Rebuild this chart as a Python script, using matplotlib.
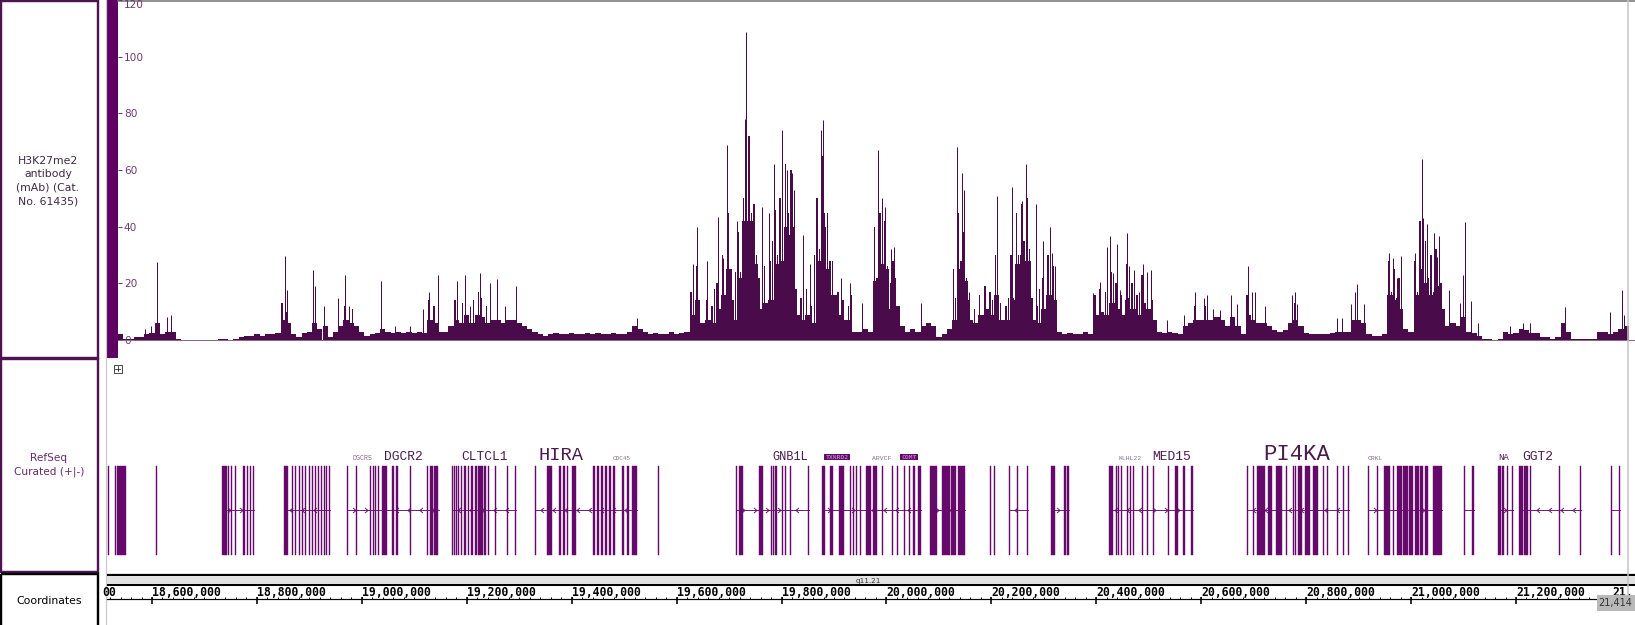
import math
import matplotlib
matplotlib.use("Agg")
import matplotlib.pyplot as plt
from matplotlib.patches import Rectangle
from matplotlib.path import Path
import numpy as np

# ---------------------------------------------------------------- data
track_label = "H3K27me2\nantibody\n(mAb) (Cat.\nNo. 61435)"
gene_track_label = "RefSeq\nCurated (+|-)"
ruler_label = "Coordinates"
band_label = "q11.21"
window_end_label = "21,414"
window_end_bp = 21_414_000

# signal: 10 kb bins starting at 18,535,000
signal_bin_start = 18_535_000
signal_bin_size = 10_000
signal_body = [
    2, 0.5, 0.5, 1, 1, 2, 2.5, 6, 2, 3,
    3, 0.5, 0, 0, 0, 0, 0, 0, 0, 0.5,
    0.5, 0, 0.5, 1, 1.5, 1.5, 2, 1.5, 2, 2,
    2.5, 7, 6, 2, 1, 2.5, 3, 6, 4, 5,
    1, 3, 5, 7, 6, 5, 3, 1.5, 2, 2.5,
    4, 3, 2.5, 3, 2.5, 3, 2.5, 3, 2.5, 7,
    6, 3, 3, 5, 7, 6, 9, 6, 9, 8,
    6, 7, 7, 6, 7, 7, 6, 5, 4, 3,
    2, 1.5, 2, 2.5, 2, 2, 2.5, 2, 2, 2.5,
    2, 2.5, 2, 2, 2.5, 2, 2, 3, 5, 4,
    3, 2, 2.5, 2, 2, 3, 2, 2.5, 3, 9,
    14, 6, 7, 6, 11, 16, 25, 7, 22, 42,
    42, 27, 11, 13, 14, 27, 28, 40, 37, 9,
    7, 9, 6, 28, 40, 25, 16, 9, 7, 7,
    3, 3, 4, 3, 21, 27, 25, 11, 12, 5,
    3, 4, 3, 5, 6, 5, 1, 2, 4, 7,
    25, 21, 7, 6, 9, 11, 9, 16, 7, 7,
    14, 27, 30, 28, 7, 6, 11, 16, 14, 3,
    2, 2.5, 2, 2, 3, 2, 9, 10, 9, 13,
    11, 9, 14, 11, 9, 13, 11, 7, 3, 2.5,
    3, 2.5, 2, 5, 6, 7, 7, 7, 7, 8,
    7, 5, 8, 5, 2, 9, 7, 6, 6, 5,
    3.5, 3, 3.5, 6, 7, 5, 2.5, 2, 2, 2,
    2, 2.5, 3, 3, 3, 7, 7, 6, 2, 1.5,
    1.5, 2, 16, 14, 11, 4, 3, 16, 25, 20,
    16, 18, 11, 5, 6, 5, 8, 3, 2.5, 1.5,
    0.5, 0.5, 0, 0.5, 3, 2, 2.5, 4, 3.5, 2.5,
    2.5, 1, 1, 0.5, 1, 6, 3, 0.5, 0.5, 0.5,
    0.5, 0.5, 3, 3, 2, 3, 4, 5,
]
# two finer readings inside the busier bins (bin index, value early in bin, value late in bin)
fine_bins = [31, 32, 37, 43, 44, 59, 60, 64, 65, 66, 67, 68, 69, 70,
             109, 110, 112, 113, 114, 115, 116, 117, 118, 119, 120, 121, 122, 123, 124, 125, 126, 127,
             128, 129, 130, 131, 132, 133, 134, 135, 136, 137, 138, 139,
             144, 145, 146, 147, 148,
             159, 160, 161, 162, 163, 164, 165, 166, 167, 168, 169, 170, 171, 172, 173, 174, 175, 176,
             177, 178,
             186, 187, 188, 189, 190, 191, 192, 193, 194, 195, 196, 197,
             205, 207, 215, 216, 224, 236,
             242, 243, 244, 247, 248, 249, 250, 251, 252]
fine_early = [13, 10, 11, 12, 6, 14, 12, 14, 6, 16, 11, 9, 15, 12,
              17, 26, 14, 12, 20, 30, 45, 14, 38, 50, 72, 48, 22, 26, 28, 46, 50, 62,
              60, 18, 15, 18, 12, 50, 65, 45, 28, 17, 14, 12,
              40, 45, 42, 20, 22,
              25, 45, 38, 14, 11, 16, 19, 17, 30, 13, 12, 30, 45, 48, 50, 15, 12, 22,
              30, 26,
              16, 18, 17, 24, 20, 16, 27, 20, 16, 23, 20, 14,
              12, 12, 16, 14, 13, 12,
              28, 25, 22, 28, 42, 35, 30, 32, 20]
fine_late = [6, 5, 6, 7, 11, 7, 5, 7, 13, 9, 14, 17, 8, 6,
             22, 14, 7, 18, 11, 16, 25, 24, 24, 70, 45, 30, 10, 13, 35, 30, 32, 45,
             40, 8, 20, 9, 30, 32, 45, 28, 16, 9, 7, 16,
             22, 30, 26, 28, 12,
             15, 28, 22, 7, 6, 9, 11, 14, 16, 7, 15, 15, 30, 35, 32, 7, 18, 11,
             17, 14,
             9, 10, 8, 13, 11, 9, 15, 11, 9, 13, 11, 7,
             7, 6, 9, 7, 7, 7,
             17, 15, 10, 17, 28, 22, 17, 19, 10]
# narrow spikes (kb position, value)
spike_kb = [
    18586.7, 18598.1, 18609.5, 18628.6, 18636.2, 18853.5, 18857.3, 18906.9, 18910.7, 18927.9,
    18954.5, 18967.9, 18975.5, 19036.5, 19063.2, 19091.8, 19116.6, 19128.0, 19145.2, 19181.4,
    19196.6, 19206.2, 19225.2, 19244.3, 19257.6, 19272.9, 19293.9, 19524.5, 19631.3, 19638.9,
    19657.9, 19678.9, 19688.5, 19696.1, 19715.1, 19730.4, 19732.3, 19738.0, 19762.8, 19776.1,
    19785.6, 19800.9, 19806.6, 19810.4, 19820.0, 19823.8, 19840.9, 19854.3, 19875.2, 19879.0,
    19913.3, 19930.5, 19953.4, 19983.9, 19991.5, 19997.2, 20008.6, 20014.3, 20065.8, 20134.4,
    20144.0, 20147.8, 20157.3, 20210.7, 20239.3, 20258.3, 20266.0, 20285.0, 20298.4, 20311.7,
    20315.5, 20321.2, 20393.7, 20407.0, 20420.4, 20426.1, 20431.8, 20439.5, 20445.2, 20458.5,
    20462.3, 20471.9, 20481.4, 20489.0, 20496.7, 20504.3, 20534.8, 20567.2, 20588.2, 20605.3,
    20611.0, 20622.5, 20635.8, 20656.8, 20668.2, 20689.2, 20696.8, 20702.5, 20721.6, 20773.1,
    20778.8, 20782.6, 20858.8, 20868.3, 20885.5, 20893.1, 20896.9, 20910.3, 20957.9, 20965.5,
    20973.1, 20980.7, 21007.5, 21020.9, 21022.8, 21026.6, 21030.4, 21043.8, 21049.5, 21053.3,
    21072.3, 21093.3, 21099.0, 21102.8, 21114.3, 21127.6, 21188.6, 21213.4, 21226.7, 21293.4,
    21379.3, 21402.0, 21405.8,
]
spike_val = [
    4, 5, 27.7, 8, 9, 29.5, 17.7, 24.6, 19, 12,
    15, 23, 12, 21, 5, 5, 11, 17, 23, 21,
    23, 12, 23.5, 20, 21.7, 12, 19, 7.6, 27, 40,
    28, 43.5, 29, 69, 42, 78, 108.6, 65, 47, 45,
    62, 74, 60, 60, 59, 53, 37, 27, 74, 77.6,
    22, 20, 13, 67, 50, 47, 32, 33, 13, 68,
    59, 53, 17, 51, 54, 49, 62, 48, 35, 40,
    30.6, 26, 16.5, 20.6, 33, 36.7, 23.5, 34, 17.6, 37.6,
    26, 24.7, 17, 26.8, 24, 24.7, 7, 9, 17, 15,
    16, 11, 10.6, 16, 12.7, 26, 17, 17, 12, 16,
    17, 12.7, 7.6, 7.6, 12.7, 17, 19.8, 12.7, 30.6, 29,
    21.8, 29.6, 30.6, 64, 43, 35, 41, 37.6, 29.4, 36.7,
    17.6, 13, 23, 41.8, 13.8, 6, 5, 6, 6, 11.8,
    10, 17.6, 9,
]
y_ticks = [0, 20, 40, 60, 80, 100, 120]

# RefSeq exons (kb start, kb width)
exon_start_kb = [
    18516.0, 18529.5, 18533.3, 18607.6,
    18733.4, 18744.9, 18750.6, 18758.2, 18773.4, 18781.1, 18786.8, 18792.5,
    18851.6, 18866.8, 18872.6, 18880.2, 18885.9, 18891.6, 18899.2, 18905.0, 18910.7, 18916.4, 18922.1, 18927.8, 18931.6, 18937.4,
    18971.7, 18988.8, 19015.5, 19021.2, 19025.0, 19030.8, 19038.4, 19057.4, 19065.0, 19091.7, 19124.2, 19129.9, 19137.5,
    19171.8, 19175.6, 19179.4, 19183.2, 19189.0, 19194.7, 19202.3, 19208.0, 19215.6, 19221.4, 19232.8, 19240.4, 19253.8, 19276.6, 19291.9,
    19330.0, 19352.9, 19375.8, 19383.4, 19391.0, 19400.5, 19440.6, 19448.2, 19455.8, 19463.4, 19471.1, 19478.7, 19495.8, 19505.4, 19514.9, 19564.4,
    19713.1, 19718.8, 19756.9, 19779.8, 19783.6, 19787.4, 19800.8, 19806.5, 19816.0, 19850.3, 19877.0, 19892.2, 19909.4, 19930.4, 19936.1, 19941.8, 19949.4, 19960.9, 19974.2, 19991.4,
    20010.4, 20020.0, 20033.3, 20042.8, 20050.5, 20060.0, 20082.9, 20105.7, 20122.9, 20136.2,
    20197.2, 20204.9, 20233.4, 20248.7, 20267.8, 20313.5, 20338.3, 20344.0,
    20424.1, 20437.4, 20441.2, 20447.0, 20458.4, 20464.1, 20469.8, 20486.9, 20496.5, 20507.9, 20536.5, 20549.8, 20565.1, 20580.3,
    20687.1, 20698.5, 20706.1, 20727.1, 20742.3, 20761.4, 20774.7, 20778.6, 20784.3, 20797.6, 20812.9, 20831.9, 20839.6, 20858.6, 20870.0, 20879.6,
    20917.7, 20934.9, 20948.2, 20965.4, 20973.0, 20984.4, 20995.9, 21007.3, 21016.8, 21026.3, 21041.6,
    21100.7, 21115.9, 21165.5, 21173.1, 21182.6, 21192.2, 21205.5, 21215.0, 21226.5, 21281.8, 21321.8, 21380.8, 21396.1,
]
exon_width_kb = [
    1.9, 1.9, 17.2, 2.5,
    9.5, 1.9, 1.9, 1.9, 3.8, 1.9, 1.9, 1.9,
    7.6, 1.9, 1.9, 1.9, 1.9, 1.9, 1.9, 1.9, 1.9, 1.9, 1.9, 1.9, 1.9, 1.9,
    1.9, 1.9, 1.9, 1.9, 1.9, 1.9, 9.5, 3.8, 3.8, 1.9, 1.9, 5.7, 7.6,
    1.9, 1.9, 1.9, 1.9, 1.9, 3.8, 1.9, 3.8, 3.8, 9.5, 3.8, 1.9, 1.9, 1.9, 1.9,
    1.9, 9.5, 2.9, 2.9, 2.9, 7.6, 2.9, 3.8, 3.8, 3.8, 3.8, 3.8, 3.8, 3.8, 9.5, 1.9,
    1.9, 7.6, 7.6, 1.9, 1.9, 3.8, 1.9, 1.9, 1.9, 1.9, 5.7, 5.7, 9.5, 1.9, 1.9, 1.9, 1.9, 9.5, 7.6, 1.9,
    1.9, 1.9, 1.9, 1.9, 3.8, 5.7, 13.0, 15.0, 9.5, 13.0,
    1.9, 1.9, 1.9, 1.9, 1.9, 7.6, 3.8, 3.8,
    7.6, 1.9, 1.9, 1.9, 1.9, 1.9, 1.9, 1.9, 1.9, 1.9, 1.9, 5.7, 3.8, 3.8,
    1.9, 1.9, 15.0, 7.6, 11.4, 1.9, 1.9, 1.9, 7.6, 9.5, 9.5, 1.9, 1.9, 1.9, 1.9, 1.9,
    1.9, 1.9, 11.4, 1.9, 9.5, 9.5, 7.6, 7.6, 5.7, 5.7, 17.0,
    1.9, 3.8, 5.7, 3.8, 1.9, 1.9, 7.6, 7.6, 1.9, 1.9, 1.9, 1.9, 1.9,
]
# transcript spans with strand
gene_span_start_kb = [18733.4, 18851.6, 18971.7, 19030.8, 19171.8, 19330.0, 19713.1, 19816.0, 19877.0, 19960.9,
                      20082.9, 20233.4, 20313.5, 20424.1, 20496.5, 20687.1, 20917.7, 21100.7, 21165.5, 21205.5, 21380.8]
gene_span_end_kb = [18794.4, 18939.3, 19030.8, 19147.0, 19293.8, 19524.4, 19816.0, 19852.2, 19960.9, 20066.0,
                    20149.0, 20269.7, 20347.8, 20496.5, 20584.1, 20881.5, 21058.6, 21119.7, 21194.1, 21323.7, 21398.0]
gene_span_strand = [1, -1, 1, -1, -1, -1, 1, -1, 1, -1, 1, -1, 1, -1, 1, -1, 1, -1, 1, -1, -1]

gene_label_names = ["DGCR5", "DGCR2", "CLTCL1", "HIRA", "CDC45", "GNB1L", "TXNRD2", "ARVCF",
                    "COMT", "KLHL22", "MED15", "PI4KA", "CRKL", "NA", "GGT2"]
gene_label_kb = [19000.3, 19078.4, 19234.7, 19379.6, 19495.8, 19816.0, 19905.6, 19991.4,
                 20042.8, 20464.0, 20544.0, 20782.0, 20931.0, 21177.0, 21241.8]

ruler_major = list(range(18_400_000, 21_400_001, 200_000))
ruler_minor_step = 20_000

assert len(spike_kb) == len(spike_val)
assert len(exon_start_kb) == len(exon_width_kb)
assert len(fine_bins) == len(fine_early) == len(fine_late)

# ---------------------------------------------------------------- style
W, H = 1635, 625
SIG = "#4a0b4a"
GENE = "#650a6a"
HANDLE = "#5e0062"
PANEL = "#4d1352"
TICKC = "#6e3a72"
LBLC = "#4a1a4e"
PX = 0.72  # points per pixel
BP_PER_PX = 2_600_000 / 1364

label_size = {"DGCR5": 4.8, "CDC45": 4.3, "ARVCF": 4.6, "KLHL22": 4.6, "CRKL": 4.6,
              "HIRA": 13.5, "PI4KA": 16, "GNB1L": 8.6, "NA": 6.5, "TXNRD2": 4.6, "COMT": 4.6}
blob_labels = {"TXNRD2", "COMT"}
faint_labels = {"DGCR5", "CDC45", "ARVCF", "KLHL22", "CRKL"}


def px2bp(x):
    return 18_600_000 + (x - 152) * BP_PER_PX


def bp2px(b):
    return 152 + (b - 18_600_000) / BP_PER_PX


fig = plt.figure(figsize=(W / 100, H / 100), dpi=100)
fig.patch.set_facecolor("white")


def px_axes(x0, y0, x1, y1, z=1):
    ax = fig.add_axes([x0 / W, 1 - y1 / H, (x1 - x0) / W, (y1 - y0) / H])
    ax.set_zorder(z)
    ax.patch.set_alpha(0)
    return ax


# background overlay in pixel coords
ov = px_axes(0, 0, W, H, z=0)
ov.set_xlim(0, W)
ov.set_ylim(H, 0)
ov.axis("off")

# left label panels
ov.add_patch(Rectangle((1.2, 1.2), 96.8, 356.3, fill=False, ec=PANEL, lw=2.4 * PX))
ov.add_patch(Rectangle((1.2, 358.5), 96.8, 213, fill=False, ec=PANEL, lw=2.4 * PX))
ov.add_patch(Rectangle((1.2, 573.5), 96.8, 60, fill=False, ec="black", lw=2.4 * PX))
ov.text(48, 181, track_label, ha="center", va="center", fontsize=7.8, color="#3d2a42",
        linespacing=1.42, family="DejaVu Sans")
ov.text(49, 465, gene_track_label, ha="center", va="center", fontsize=7.6, color="#6a2a6e",
        linespacing=1.4, family="DejaVu Sans")
ov.text(49, 601, ruler_label, ha="center", va="center", fontsize=7.8, color="black",
        family="DejaVu Sans")
# separator line and handle
ov.plot([106, 106], [0, H], color="#c8c8c8", lw=1.2 * PX)
ov.add_patch(Rectangle((107, 0), 11, 358, color=HANDLE, lw=0))
# top border
ov.plot([118, W], [0.6, 0.6], color="#777777", lw=1.6 * PX)
# expand icon
ov.add_patch(Rectangle((113.5, 364.5), 8, 8, fill=False, ec="#222222", lw=0.8 * PX))
ov.plot([117.5, 117.5], [366, 371], color="#222222", lw=0.8 * PX)
ov.plot([115, 120], [368.5, 368.5], color="#222222", lw=0.8 * PX)

# ---------------------------------------------------------------- signal track
sig = px_axes(118, 0, W, 340, z=2)
sig.set_xlim(px2bp(118), px2bp(W))
sig.set_ylim(0, 120)
bin_starts = signal_bin_start + signal_bin_size * np.arange(len(signal_body))
sig.bar(bin_starts, signal_body, width=signal_bin_size, align="edge", color=SIG, linewidth=0)
fb = signal_bin_start + signal_bin_size * np.array(fine_bins)
sig.bar(fb + 1_000, fine_early, width=3_000, align="edge", color=SIG, linewidth=0)
sig.bar(fb + 6_000, fine_late, width=2_500, align="edge", color=SIG, linewidth=0)
sig.vlines(np.array(spike_kb) * 1000, 0, spike_val, color=SIG, linewidth=1.0 * PX)
sig.axhline(0, color="#8a6a8a", lw=1.0 * PX, clip_on=False)
for s in sig.spines.values():
    s.set_visible(False)
sig.set_xticks([])
sig.set_yticks(y_ticks)
sig.set_yticklabels([str(v) for v in y_ticks])
sig.tick_params(axis="y", direction="in", length=3.0, width=0.8, color=TICKC,
                labelcolor=TICKC, labelsize=7.6, pad=-4.2)
for lbl in sig.get_yticklabels():
    lbl.set_horizontalalignment("left")
    lbl.set_family("DejaVu Sans")
sig.get_yticklabels()[-1].set_verticalalignment("top")

# ---------------------------------------------------------------- gene track
gen = px_axes(107, 358, W, 572, z=2)
gen.set_xlim(px2bp(107), px2bp(W))
gen.set_ylim(572, 358)
gen.axis("off")

chev_r = Path([(-0.6, 1), (0.6, 0), (-0.6, -1)], [Path.MOVETO, Path.LINETO, Path.LINETO])
chev_l = Path([(0.6, 1), (-0.6, 0), (0.6, -1)], [Path.MOVETO, Path.LINETO, Path.LINETO])
step = 12 * BP_PER_PX
for s0, s1, st in zip(gene_span_start_kb, gene_span_end_kb, gene_span_strand):
    a, b = s0 * 1000, s1 * 1000
    gen.plot([a, b], [510, 510], color=GENE, lw=0.9 * PX)
    xs = np.arange(a + step * 0.6, b - step * 0.3, step)
    gen.plot(xs, np.full(len(xs), 510), ls="none", marker=chev_r if st > 0 else chev_l,
             markersize=3.6, mfc="none", mec=GENE, mew=0.9 * PX)

gen.bar(np.array(exon_start_kb) * 1000, 89, width=np.array(exon_width_kb) * 1000, bottom=466,
        align="edge", color=GENE, edgecolor=GENE, linewidth=0.3)

for name, kb in zip(gene_label_names, gene_label_kb):
    size = label_size.get(name, 9.3)
    if name in blob_labels:
        gen.text(kb * 1000, 457, name, ha="center", va="center", fontsize=size, weight="bold",
                 family="DejaVu Sans Mono", color="#b080b8",
                 bbox=dict(boxstyle="square,pad=0.15", fc=GENE, ec="none"))
    else:
        gen.text(kb * 1000, 460, name, ha="center", va="baseline", fontsize=size,
                 family="Liberation Mono",
                 color="#8a6a90" if name in faint_labels else LBLC)

# ---------------------------------------------------------------- ruler
rul = px_axes(107, 572, W, H, z=2)
rul.set_xlim(px2bp(107), px2bp(W))
rul.set_ylim(H, 572)
rul.axis("off")
rul.axhspan(576.5, 584, color="#e2e2e2", lw=0)
rul.axhline(575.3, color="black", lw=2.2 * PX)
rul.axhline(585.2, color="black", lw=2.0 * PX)
rul.axhline(599.3, color="black", lw=1.2 * PX)
minor = np.arange(ruler_major[0], ruler_major[-1] + 1, ruler_minor_step)
rul.vlines(minor, 596.5, 599.3, color="black", lw=1.0 * PX)
rul.vlines(ruler_major, 597, 603.5, color="black", lw=1.6 * PX)

RSIZE = 8.3
cw = 0.602 * RSIZE * 100 / 72  # monospace character width in px
for p in ruler_major:
    s = f"{p:,}"
    x0 = bp2px(p)
    x1 = x0 + len(s) * cw
    kw = dict(va="baseline", fontsize=RSIZE, weight="bold", family="DejaVu Sans Mono",
              color="black")
    if x0 < 107:            # only the tail of the label shows at the left edge
        n = math.ceil((x1 - 107) / cw)
        rul.text(px2bp(x1), 596.3, s[-n:], ha="right", **kw)
    elif x1 > W:            # only the head of the label shows at the right edge
        n = math.ceil((W - x0) / cw)
        rul.text(px2bp(W - 2), 596.3, s[:n], ha="right", **kw)
    else:
        rul.text(p, 596.3, s, ha="left", **kw)
rul.text(px2bp(868), 581, band_label, ha="center", va="center", fontsize=5.2,
         family="DejaVu Sans", color="#333333")

# ---------------------------------------------------------------- top decorations
top = px_axes(0, 0, W, H, z=5)
top.set_xlim(0, W)
top.set_ylim(H, 0)
top.axis("off")
xe = bp2px(window_end_bp)
top.plot([xe, xe], [0, 594], color="#c4c4c4", lw=1.5 * PX)
top.add_patch(Rectangle((1597, 595), 40, 15.5, color="#b9b9b9", lw=0))
top.text(1598, 603, window_end_label, ha="left", va="center", fontsize=7.0,
         family="DejaVu Sans", color="#333333")

fig.savefig("out.png", dpi=100, facecolor="white")
